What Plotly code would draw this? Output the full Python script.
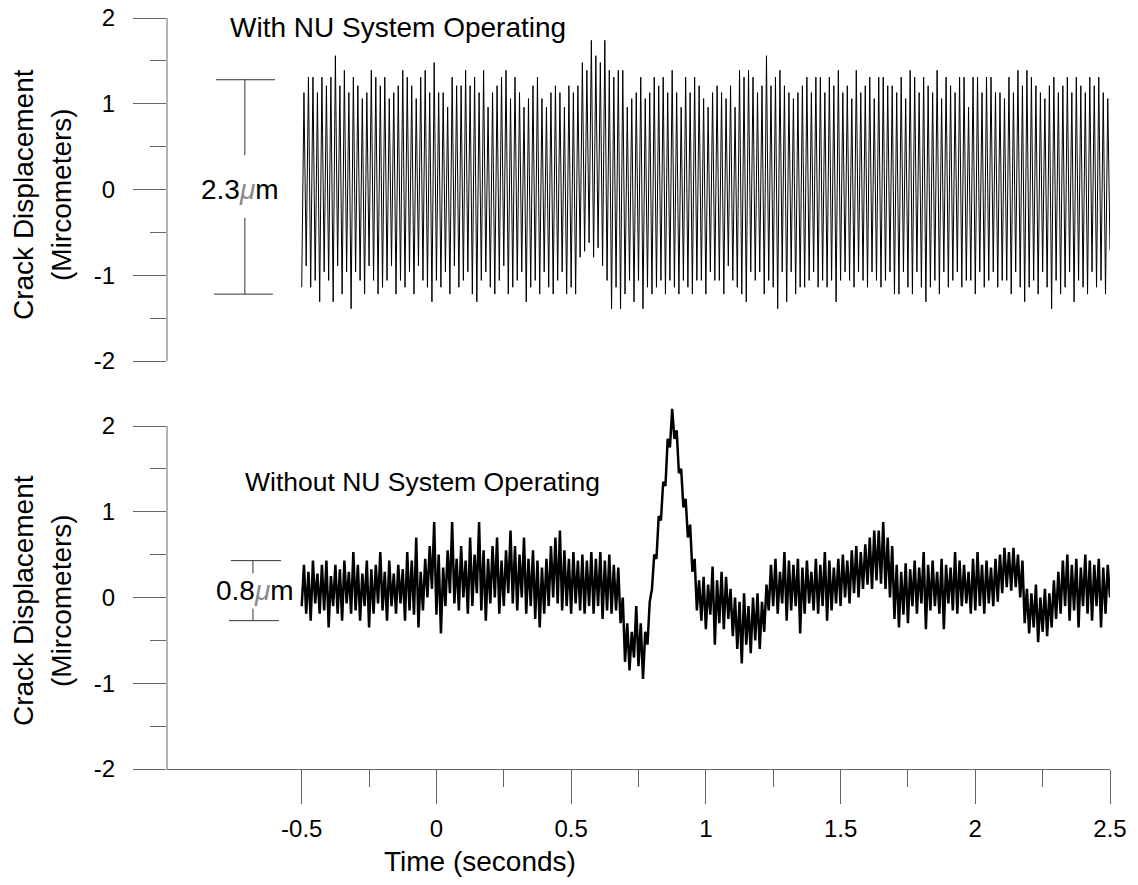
import numpy as np
import plotly.graph_objects as go

# ---------------- data ----------------
# Top trace: "With NU System Operating" -- alternating troughs / peaks of the 60 Hz signal
top_troughs = [
    -1.14, -0.89, -1.14, -1.06, -1.31, -0.96, -1.06, -1.31, -0.89, -1.22, -0.96, -1.39, -0.96, -1.06, -1.22,
    -0.89, -1.06, -1.22, -1.14, -1.06, -0.89, -1.22, -1.06, -1.14, -0.96, -1.22, -0.89, -1.06, -1.14, -1.31,
    -1.06, -1.14, -0.96, -1.22, -0.89, -1.14, -1.06, -0.96, -1.22, -1.31, -1.06, -0.96, -1.14, -1.22, -1.06,
    -0.89, -1.22, -1.14, -1.06, -0.96, -1.31, -1.14, -1.06, -1.22, -0.96, -1.14, -1.22, -1.06, -0.96, -1.22,
    -1.14, -1.22, -0.79, -0.72, -0.62, -0.79, -0.68, -0.89, -1.06, -1.39, -1.14, -1.39, -1.22, -1.06, -1.31,
    -1.06, -1.39, -1.14, -1.22, -1.14, -1.06, -1.22, -1.06, -1.14, -1.22, -1.06, -1.14, -1.22, -1.06, -1.06,
    -1.22, -0.96, -1.06, -1.06, -1.22, -0.89, -1.06, -1.14, -1.22, -1.31, -0.96, -1.06, -0.96, -1.22, -1.06,
    -1.14, -1.39, -0.96, -1.31, -0.96, -1.22, -1.14, -1.14, -1.06, -0.96, -1.14, -1.06, -1.14, -1.06, -1.31,
    -1.06, -0.96, -1.06, -1.14, -0.96, -1.06, -1.14, -0.96, -1.06, -1.14, -1.06, -0.96, -1.22, -1.22, -0.96,
    -1.14, -1.22, -0.96, -1.14, -1.31, -1.14, -1.06, -1.22, -0.96, -1.14, -1.06, -0.96, -1.14, -1.06, -1.06,
    -1.22, -0.96, -1.14, -1.06, -0.96, -1.14, -1.06, -1.06, -1.22, -0.96, -1.14, -1.31, -1.14, -1.06, -1.22,
    -0.96, -1.14, -1.39, -1.06, -1.22, -1.14, -0.96, -1.31, -1.06, -1.14, -1.22, -0.96, -1.14, -1.06, -1.22,
    -0.71,
]
top_peaks = [
    1.13, 1.31, 1.31, 1.13, 1.31, 1.21, 1.31, 1.56, 1.21, 1.39, 1.13, 1.31, 1.21, 1.06, 1.13,
    1.39, 1.31, 1.21, 1.31, 1.06, 1.13, 1.21, 1.39, 1.31, 1.21, 1.06, 1.31, 1.39, 1.13, 1.48,
    1.13, 1.13, 0.96, 1.31, 1.21, 1.21, 1.39, 1.21, 1.31, 1.13, 1.39, 0.96, 1.13, 1.21, 1.31,
    1.39, 1.06, 1.31, 1.13, 0.96, 1.06, 1.21, 1.31, 1.06, 0.96, 1.13, 1.21, 1.13, 0.96, 1.21,
    1.13, 1.21, 1.48, 1.39, 1.74, 1.56, 1.48, 1.74, 1.39, 1.31, 1.39, 1.39, 0.96, 1.06, 1.13,
    1.31, 1.06, 1.13, 1.31, 1.21, 1.31, 1.13, 1.39, 1.13, 0.96, 1.31, 1.13, 1.31, 1.21, 1.06,
    0.96, 1.13, 1.21, 1.13, 1.06, 1.21, 0.96, 1.39, 1.31, 1.39, 1.31, 1.13, 1.21, 1.56, 1.21,
    1.31, 1.39, 1.21, 1.13, 1.06, 1.13, 1.21, 1.31, 1.13, 1.31, 1.31, 1.13, 1.31, 1.21, 1.39,
    1.13, 1.21, 1.06, 1.39, 1.13, 1.21, 1.31, 1.06, 1.31, 1.31, 1.21, 1.21, 1.13, 1.31, 1.06,
    1.39, 1.31, 1.13, 1.31, 1.21, 1.13, 1.39, 1.06, 1.31, 1.21, 1.13, 1.31, 1.31, 0.96, 1.31,
    1.31, 1.13, 1.31, 1.31, 1.13, 1.13, 1.06, 1.31, 1.13, 1.39, 1.21, 1.39, 1.31, 1.21, 1.13,
    1.06, 1.21, 1.31, 1.13, 1.21, 1.31, 1.13, 1.31, 1.21, 1.13, 1.31, 1.21, 1.31, 1.13, 1.06,
]

# Bottom trace: "Without NU System Operating"
bottom_troughs = [
    -0.10, -0.19, -0.27, -0.07, -0.19, -0.15, -0.35, -0.10, -0.19, -0.27, -0.07, -0.19, -0.15,
    -0.27, -0.10, -0.35, -0.19, -0.07, -0.15, -0.27, -0.10, -0.19, -0.07, -0.27, -0.15,
    -0.20, -0.35, -0.15, 0.00, 0.10, -0.20, -0.42, -0.10, 0.05,
    -0.07, -0.15, 0.00, -0.19, -0.10, 0.05, -0.15, -0.27, -0.07, 0.00, -0.19, -0.10, 0.05, -0.07,
    -0.15, 0.00, -0.19, -0.10, -0.25, -0.35, -0.19, -0.10, 0.00, -0.07, -0.15, -0.10, -0.19, -0.07,
    -0.15, -0.19, -0.10,
    -0.19, -0.10, -0.25, -0.15, -0.19, -0.15,
    -0.30, -0.75, -0.85, -0.70, -0.80, -0.95, -0.55, 0.10, 0.45, 0.90, 1.30, 1.75, 1.85, 1.45, 1.05,
    0.70, 0.30, -0.15,
    -0.27, -0.37, -0.20, -0.55, -0.30, -0.37, -0.25,
    -0.45, -0.60, -0.77, -0.55, -0.65, -0.50, -0.60, -0.40,
    -0.15, -0.10, -0.19, -0.07, -0.27, -0.15, -0.10, -0.42, -0.19, -0.07, -0.15, -0.19, -0.10, -0.27,
    -0.15, -0.07, -0.10, 0.00, -0.07, 0.05, 0.00, 0.10,
    0.15, 0.10, 0.20, 0.16, 0.10, 0.00,
    -0.25, -0.35, -0.20, -0.30,
    -0.10, -0.19, -0.07, -0.37, -0.15, -0.10, -0.19, -0.37, -0.07, -0.15, -0.19, -0.10, -0.07, -0.19,
    -0.15, -0.10, -0.19, -0.07, -0.10, -0.05,
    0.05, 0.12, 0.08, 0.12, 0.00,
    -0.30, -0.42, -0.35, -0.52, -0.40, -0.45, -0.35, -0.25,
    -0.19, -0.10, -0.27, -0.15, -0.35, -0.10, -0.19, -0.27, -0.10, -0.35, -0.19, 0.00,
]
bottom_peaks = [
    0.38, 0.30, 0.43, 0.28, 0.38, 0.43, 0.25, 0.38, 0.33, 0.43, 0.30, 0.53, 0.38, 0.28, 0.43, 0.33,
    0.38, 0.53, 0.30, 0.43, 0.28, 0.38, 0.33, 0.53, 0.43,
    0.70, 0.30, 0.45, 0.60, 0.88, 0.50, 0.35, 0.55, 0.88,
    0.45, 0.60, 0.43, 0.70, 0.50, 0.88, 0.55, 0.45, 0.60, 0.70, 0.43, 0.55, 0.78, 0.60, 0.50, 0.70,
    0.45, 0.55, 0.43, 0.35, 0.45, 0.60, 0.70, 0.78, 0.55, 0.45, 0.53, 0.43, 0.50, 0.43, 0.53,
    0.45, 0.53, 0.43, 0.50, 0.38, 0.35,
    0.00, -0.30, -0.40, -0.10, -0.30, -0.40, -0.05, 0.50, 0.95, 1.35, 1.85, 2.20, 1.95, 1.50, 1.15,
    0.85, 0.45, 0.20,
    0.24, 0.15, 0.36, 0.20, 0.30, 0.24, 0.10,
    0.00, -0.05, 0.05, -0.10, 0.00, 0.05, -0.05, 0.15,
    0.38, 0.45, 0.30, 0.53, 0.43, 0.38, 0.45, 0.35, 0.43, 0.30, 0.45, 0.38, 0.53, 0.43, 0.35, 0.45,
    0.50, 0.43, 0.55, 0.60, 0.53, 0.62,
    0.70, 0.78, 0.78, 0.88, 0.70, 0.60,
    0.38, 0.30, 0.40, 0.33,
    0.43, 0.35, 0.53, 0.38, 0.43, 0.30, 0.45, 0.38, 0.35, 0.53, 0.43, 0.38, 0.30, 0.45, 0.53, 0.38,
    0.43, 0.35, 0.45, 0.50,
    0.58, 0.53, 0.58, 0.50, 0.43,
    0.10, 0.05, 0.15, 0.00, 0.10, 0.05, 0.20, 0.30,
    0.43, 0.50, 0.38, 0.45, 0.35, 0.50, 0.43, 0.38, 0.45, 0.35, 0.38,
]

t_start = -0.5          # s, first sample
cycle = 1.0 / 60.0      # s, one period of the recorded vibration

x_ticks = [-0.5, 0, 0.5, 1, 1.5, 2, 2.5]
x_tick_text = ["-0.5", "0", "0.5", "1", "1.5", "2", "2.5"]
x_minor = [-0.25, 0.25, 0.75, 1.25, 1.75, 2.25]
y_ticks = [-2, -1, 0, 1, 2]
y_tick_text = ["-2", "-1", "0", "1", "2"]
y_minor = [-1.5, -0.5, 0.5, 1.5]


def interleave(troughs, peaks):
    t, v = [], []
    for i, tr in enumerate(troughs):
        t.append(t_start + i * cycle)
        v.append(tr)
        if i < len(peaks):
            t.append(t_start + (i + 0.5) * cycle)
            v.append(peaks[i])
    return t, v


t_top, v_top = interleave(top_troughs, top_peaks)
t_bot, v_bot = interleave(bottom_troughs, bottom_peaks)

# ---------------- figure ----------------
FONT = "Liberation Sans, Arial, sans-serif"
AXC = "#666666"
W, H = 1138, 885
ML, MR, MT, MB = 167, 28, 18, 116
PW, PH = W - ML - MR, H - MT - MB
UNIT = 343 / 4.0                      # pixels per micrometer on both panels
TOP_Y0 = 361                          # pixel of y=-2, top panel
BOT_Y0 = 769                          # pixel of y=-2, bottom panel
BOT_YMAX = 2.4                        # bottom range is extended so the 2.2 peak is not clipped


def px(xp):
    return (xp - ML) / PW


def py(yp):
    return (H - MB - yp) / PH


fig = go.Figure()
fig.add_trace(go.Scatter(x=t_top, y=v_top, mode="lines", xaxis="x2", yaxis="y2",
                         line=dict(color="black", width=1), hoverinfo="skip"))
fig.add_trace(go.Scatter(x=t_bot, y=v_bot, mode="lines", xaxis="x", yaxis="y",
                         line=dict(color="black", width=2.5), hoverinfo="skip"))

yax = dict(tickvals=y_ticks, ticktext=y_tick_text, ticks="outside", ticklen=33, tickwidth=1,
           tickcolor=AXC, showline=False, showgrid=False, automargin=False,
           zeroline=False, ticklabelstandoff=13,
           tickfont=dict(family=FONT, size=24, color="black"),
           minor=dict(tickmode="array", tickvals=y_minor, ticks="outside", ticklen=16,
                      tickcolor=AXC, tickwidth=1, showgrid=False))

fig.update_layout(
    width=W, height=H, margin=dict(l=ML, r=MR, t=MT, b=MB, autoexpand=False),
    paper_bgcolor="white", plot_bgcolor="white", showlegend=False,
    xaxis=dict(range=[-1, 2.5], anchor="y", tickvals=x_ticks, ticktext=x_tick_text,
               ticks="outside", ticklen=34, tickwidth=1, tickcolor=AXC, showline=True,
               linecolor=AXC, linewidth=1, showgrid=False, zeroline=False, automargin=False,
               ticklabelstandoff=4, tickfont=dict(family=FONT, size=24, color="black"),
               minor=dict(tickmode="array", tickvals=x_minor, ticks="outside", ticklen=17,
                          tickcolor=AXC, tickwidth=1, showgrid=False)),
    xaxis2=dict(range=[-1, 2.5], anchor="y2", visible=False),
    yaxis=dict(domain=[0, UNIT * (2 + BOT_YMAX) / PH], range=[-2, BOT_YMAX], **yax),
    yaxis2=dict(domain=[(BOT_Y0 - TOP_Y0) / PH, 1], range=[-2, 2], anchor="x2", **yax),
)

# vertical axis lines (only from -2 to 2)
for yr in ("y", "y2"):
    fig.add_shape(type="line", xref="paper", yref=yr, x0=0, x1=0, y0=-2, y1=2,
                  line=dict(color=AXC, width=1))

DIM = "#333333"
# dimension bracket, top panel (2.3 um)
for (x0, y0, x1, y1) in [(-0.818, 1.28, -0.599, 1.28), (-0.826, -1.22, -0.607, -1.22),
                         (-0.711, 1.28, -0.711, 0.40), (-0.711, -0.33, -0.711, -1.22)]:
    fig.add_shape(type="line", xref="x2", yref="y2", x0=x0, y0=y0, x1=x1, y1=y1,
                  line=dict(color=DIM, width=1))
# dimension bracket, bottom panel (0.8 um)
for (x0, y0, x1, y1) in [(-0.763, 0.43, -0.577, 0.43), (-0.770, -0.27, -0.585, -0.27),
                         (-0.681, 0.43, -0.681, 0.28), (-0.681, -0.13, -0.681, -0.27)]:
    fig.add_shape(type="line", xref="x", yref="y", x0=x0, y0=y0, x1=x1, y1=y1,
                  line=dict(color=DIM, width=1))

mu = "<span style='color:#8a8a8a'><i>μ</i></span>"
ann = [
    dict(text="With NU System Operating", x=px(228), y=py(27), xanchor="left", size=28),
    dict(text="Without NU System Operating", x=px(243), y=py(482), xanchor="left", size=26.5),
    dict(text="2.3" + mu + "m", x=px(240), y=py(189), xanchor="center", size=28),
    dict(text="0.8" + mu + "m", x=px(255), y=py(590), xanchor="center", size=28),
    dict(text="Time (seconds)", x=px(480), y=py(862), xanchor="center", size=28),
]
for a in ann:
    fig.add_annotation(text=a["text"], xref="paper", yref="paper", x=a["x"], y=a["y"],
                       xanchor=a["xanchor"], yanchor="middle", showarrow=False,
                       font=dict(family=FONT, size=a["size"], color="black"))

for yc in (195, 601):
    for txt, xc in (("Crack Displacement", 23), ("(Mircometers)", 61)):
        fig.add_annotation(text=txt, xref="paper", yref="paper", x=px(xc), y=py(yc),
                           xanchor="center", yanchor="middle", textangle=-90,
                           showarrow=False, font=dict(family=FONT, size=28, color="black"))

fig.write_html("out.html", config={"displayModeBar": False},
               post_script="document.body.style.margin='0px';")
